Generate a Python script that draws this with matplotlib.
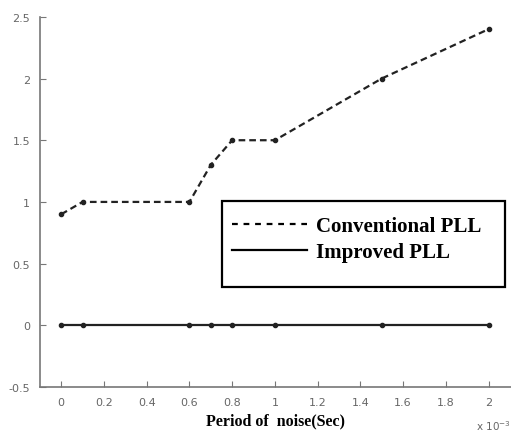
import matplotlib
matplotlib.use("Agg")
import matplotlib.pyplot as plt
from matplotlib.ticker import FuncFormatter
from matplotlib.patches import Rectangle

period = [0, 0.1e-3, 0.6e-3, 0.7e-3, 0.8e-3, 1.0e-3, 1.5e-3, 2.0e-3]
conventional = [0.9, 1.0, 1.0, 1.3, 1.5, 1.5, 2.0, 2.4]
improved = [0, 0, 0, 0, 0, 0, 0, 0]
xticks = [0, 0.2e-3, 0.4e-3, 0.6e-3, 0.8e-3, 1.0e-3, 1.2e-3, 1.4e-3, 1.6e-3, 1.8e-3, 2.0e-3]
yticks = [-0.5, 0, 0.5, 1, 1.5, 2, 2.5]

fig = plt.figure(figsize=(5.11, 4.35), dpi=100)
ax = fig.add_axes([0.078, 0.108, 0.922, 0.851])

ax.plot(period, conventional, color="#222222", linestyle=(0, (3, 1.8)), linewidth=1.6,
        marker='.', markersize=6, label="Conventional PLL")
ax.plot(period, improved, color="#222222", linestyle='-', linewidth=1.6,
        marker='.', markersize=6, label="Improved PLL")

ax.set_xlim(-0.1e-3, 2.105e-3)
ax.set_ylim(-0.5, 2.5)
ax.set_xticks(xticks)
ax.set_yticks(yticks)
ax.xaxis.set_major_formatter(FuncFormatter(lambda v, p: f"{v*1e3:g}"))
ax.yaxis.set_major_formatter(FuncFormatter(lambda v, p: f"{v:g}"))
for s in ["top", "right"]:
    ax.spines[s].set_visible(False)
for s in ["left", "bottom"]:
    ax.spines[s].set_color("#777777")
    ax.spines[s].set_linewidth(1.2)
ax.tick_params(direction="in", length=4, colors="#777777", labelsize=8,
               labelcolor="#666666", pad=7)

ax.text(1.0, -0.085, r"x 10$^{-3}$", transform=ax.transAxes, ha="right", va="top",
        fontsize=7.5, color="#666666")
ax.set_xlabel("Period of  noise(Sec)", fontfamily="Liberation Serif", fontweight="bold",
              fontsize=11.5, labelpad=4)

ax.add_patch(Rectangle((0.386, 0.270), 0.601, 0.232, transform=ax.transAxes,
                       facecolor="white", edgecolor="black", linewidth=1.6, zorder=4))
leg = ax.legend(loc="upper left", bbox_to_anchor=(0.408, 0.462), frameon=False,
                prop={"family": "Liberation Serif", "weight": "bold", "size": 15},
                handlelength=3.6, borderpad=0, labelspacing=0.3, handletextpad=0.45,
                borderaxespad=0)
leg.set_zorder(5)
for h in leg.legend_handles:
    h.set_marker("")
    h.set_color("black")
leg.legend_handles[0].set_linestyle((0, (2.6, 2.6)))

fig.savefig("out.png", dpi=100)
